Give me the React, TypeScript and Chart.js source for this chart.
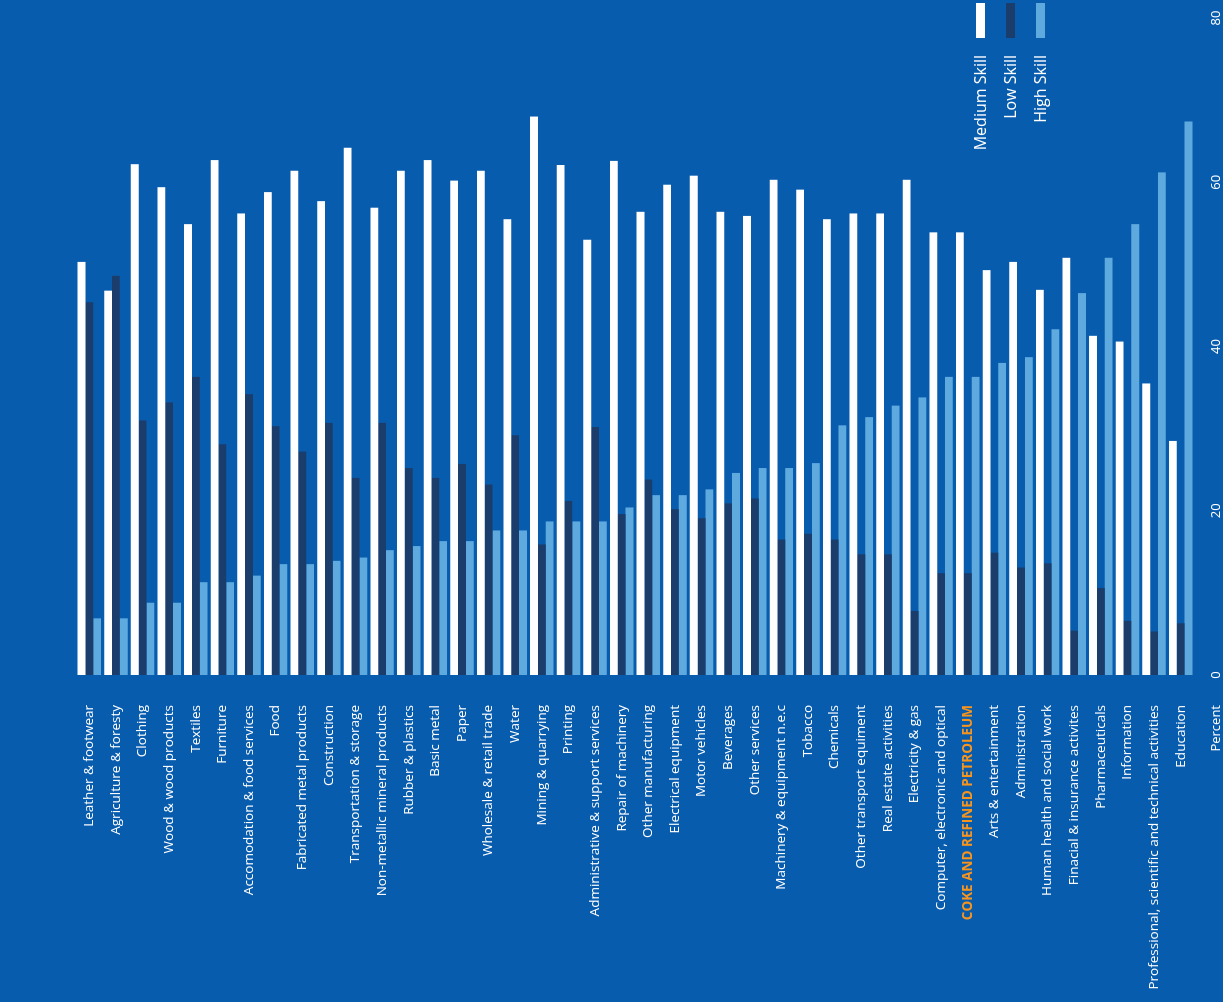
import React, { useEffect, useRef } from 'react';
import { Chart, registerables } from 'chart.js';

Chart.register(...registerables);

const categories = [
  'Leather & footwear',
  'Agriculture & foresty',
  'Clothing',
  'Wood & wood products',
  'Textiles',
  'Furniture',
  'Accomodation & food services',
  'Food',
  'Fabricated metal products',
  'Construction',
  'Transportation & storage',
  'Non-metallic mineral products',
  'Rubber & plastics',
  'Basic metal',
  'Paper',
  'Wholesale & retail trade',
  'Water',
  'Mining & quarrying',
  'Printing',
  'Administrative & support services',
  'Repair of machinery',
  'Other manufacturing',
  'Electrical equipment',
  'Motor vehicles',
  'Beverages',
  'Other services',
  'Machinery & equipment n.e.c',
  'Tobacco',
  'Chemicals',
  'Other transport equiment',
  'Real estate activities',
  'Electricity & gas',
  'Computer, electronic and optical',
  'COKE AND REFINED PETROLEUM',
  'Arts & entertainment',
  'Administration',
  'Human health and social work',
  'Finacial & insurance activites',
  'Pharmaceuticals',
  'Information',
  'Professional, scientific and technical activities',
  'Education',
];

const mediumSkill = [
  50.3, 46.8, 62.2, 59.4, 54.9, 62.7, 56.2, 58.8, 61.4, 57.7, 64.2, 56.9, 61.4, 62.7,
  60.2, 61.4, 55.5, 68.0, 62.1, 53.0, 62.6, 56.4, 59.7, 60.8, 56.4, 55.9, 60.3, 59.1,
  55.5, 56.2, 56.2, 60.3, 53.9, 53.9, 49.3, 50.3, 46.9, 50.8, 41.3, 40.6, 35.5, 28.5,
];

const lowSkill = [
  45.4, 48.6, 31.0, 33.2, 36.3, 28.1, 34.2, 30.3, 27.2, 30.7, 24.0, 30.7, 25.2, 24.0,
  25.7, 23.2, 29.2, 15.9, 21.2, 30.2, 19.6, 23.8, 20.2, 19.1, 20.9, 21.5, 16.5, 17.2,
  16.5, 14.7, 14.7, 7.8, 12.4, 12.4, 14.9, 13.1, 13.6, 5.4, 10.6, 6.6, 5.3, 6.3,
];

const highSkill = [
  6.9, 6.9, 8.8, 8.8, 11.3, 11.3, 12.1, 13.5, 13.5, 13.9, 14.3, 15.2, 15.7, 16.3,
  16.3, 17.6, 17.6, 18.7, 18.7, 18.7, 20.4, 21.9, 21.9, 22.6, 24.6, 25.2, 25.2, 25.8,
  30.4, 31.4, 32.8, 33.8, 36.3, 36.3, 38.0, 38.7, 42.1, 46.5, 50.8, 54.9, 61.2, 67.4,
];

const seriesNames = ['Medium Skill', 'Low Skill', 'High Skill'];
const valueMin = 0;
const valueMax = 80;
const valueStep = 20;
const axisTitle = 'Percent';
const highlighted = 'COKE AND REFINED PETROLEUM';

const BG = '#085cad';
const WHITE = '#ffffff';
const DARK = '#1b3d6c';
const LIGHT = '#5eaadf';
const ORANGE = '#f7941d';
const seriesColors = [WHITE, DARK, LIGHT];
const FONT = '"Open Sans", "DejaVu Sans", sans-serif';

const W = 1002; // unrotated width
const H = 1223; // unrotated height

const zeroPadding = (s: any) => {
  s.paddingTop = 0;
  s.paddingBottom = 0;
  s.paddingLeft = 0;
  s.paddingRight = 0;
};

export default function App() {
  const ref = useRef<HTMLCanvasElement>(null);

  useEffect(() => {
    if (!ref.current) return;
    const xPad = 14;
    const xFontSize = 13;
    const percentPlugin = {
      id: 'percentTitle',
      afterDraw(chart: any) {
        const { ctx, chartArea } = chart;
        const xs = chart.scales.x;
        ctx.save();
        ctx.font = `13px ${FONT}`;
        ctx.fillStyle = WHITE;
        ctx.textAlign = 'right';
        ctx.textBaseline = 'middle';
        ctx.fillText(axisTitle, chartArea.left - 30, xs.top + xPad + (xFontSize * 1.2) / 2);
        ctx.restore();
      },
    };

    const chart = new Chart(ref.current, {
      type: 'bar',
      data: {
        labels: categories,
        datasets: [
          { label: seriesNames[0], data: mediumSkill, backgroundColor: seriesColors[0] },
          { label: seriesNames[1], data: lowSkill, backgroundColor: seriesColors[1] },
          { label: seriesNames[2], data: highSkill, backgroundColor: seriesColors[2] },
        ],
      },
      options: {
        indexAxis: 'y',
        responsive: false,
        animation: false,
        devicePixelRatio: 1,
        layout: { padding: { top: 76, right: 18, bottom: 0, left: 0 } },
        datasets: { bar: { categoryPercentage: 0.88, barPercentage: 1, borderWidth: 0 } },
        plugins: { legend: { display: false }, tooltip: { enabled: false } },
        scales: {
          x: {
            type: 'linear',
            position: 'bottom',
            min: valueMin,
            max: valueMax,
            border: { display: false },
            grid: { display: false, drawTicks: false },
            afterFit(s: any) {
              s.height = 29;
              zeroPadding(s);
            },
            ticks: {
              stepSize: valueStep,
              color: WHITE,
              padding: xPad,
              maxRotation: 0,
              font: { family: FONT, size: xFontSize },
            },
          },
          y: {
            type: 'category',
            border: { display: false },
            grid: { display: false, drawTicks: false },
            afterFit(s: any) {
              s.width = 327;
              zeroPadding(s);
            },
            ticks: {
              autoSkip: false,
              padding: 30,
              color: (c: any) => (categories[c.index] === highlighted ? ORANGE : WHITE),
              font: (c: any) => ({
                family: FONT,
                size: 13.5,
                weight: categories[c.index] === highlighted ? 'bold' : 'normal',
              }),
            },
          },
        },
      },
      plugins: [percentPlugin],
    } as any);
    return () => chart.destroy();
  }, []);

  return (
    <div
      style={{
        position: 'fixed',
        left: 0,
        top: 0,
        width: 1223,
        height: 1002,
        background: BG,
        overflow: 'hidden',
      }}
    >
      <div
        style={{
          position: 'absolute',
          left: 0,
          top: 0,
          width: W,
          height: H,
          transformOrigin: '0 0',
          transform: `translate(0px, ${W}px) rotate(-90deg)`,
        }}
      >
        <canvas ref={ref} width={W} height={H} style={{ display: 'block', width: W, height: H }} />
        {seriesNames.map((name, i) => (
          <div
            key={name}
            style={{
              position: 'absolute',
              right: 3,
              top: 970 + i * 30,
              height: 20,
              display: 'flex',
              alignItems: 'center',
              gap: 17,
            }}
          >
            <span style={{ font: `16px ${FONT}`, color: WHITE, whiteSpace: 'nowrap', lineHeight: '20px' }}>
              {name}
            </span>
            <span style={{ display: 'block', width: 35, height: 9, background: seriesColors[i] }} />
          </div>
        ))}
      </div>
    </div>
  );
}
